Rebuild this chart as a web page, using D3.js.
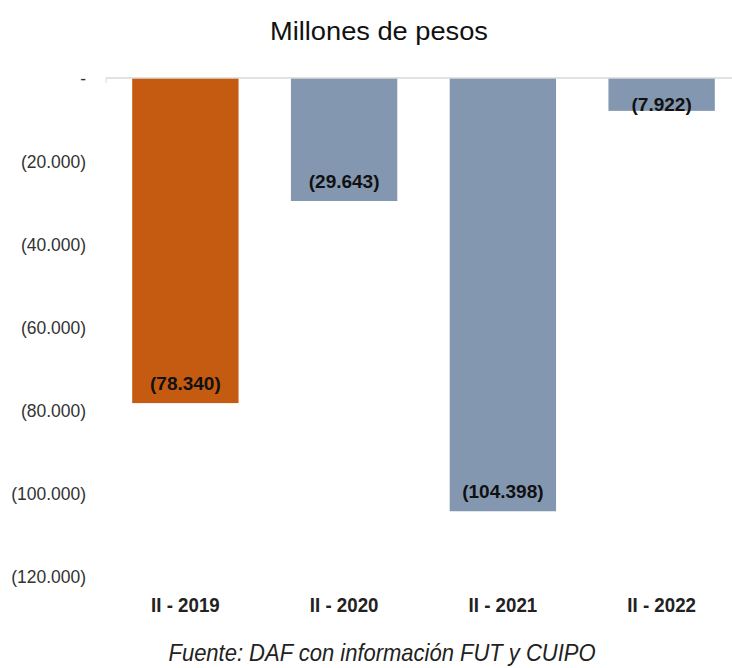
<!DOCTYPE html>
<html><head><meta charset="utf-8">
<script src="https://cdn.jsdelivr.net/npm/d3@7/dist/d3.min.js"></script>
<style>body{margin:0;background:#fff}svg{display:block}</style>
</head><body><svg id="c" width="732" height="668"></svg>
<script>
const categories = ["II - 2019","II - 2020","II - 2021","II - 2022"];
const values = [-78340,-29643,-104398,-7922];
const labels = ["(78.340)","(29.643)","(104.398)","(7.922)"];
const tickValues = [0,-20000,-40000,-60000,-80000,-100000,-120000];
const tickLabels = ["-","(20.000)","(40.000)","(60.000)","(80.000)","(100.000)","(120.000)"];
const colors = ["#C55A11","#8497B0","#8497B0","#8497B0"];

const svg = d3.select("#c");
const font = "Arial,'Liberation Sans',Helvetica,sans-serif";
function condense(sel, f){
  sel.each(function(){
    const w = this.getComputedTextLength();
    d3.select(this).attr("textLength", w*f).attr("lengthAdjust","spacingAndGlyphs");
  });
}
const x = d3.scaleBand().domain(categories).range([106,741]).paddingInner(0.33).paddingOuter(0.165);
const y = d3.scaleLinear().domain([0,-120000]).range([78,576]);

const title = svg.append("text").attr("x",379).attr("y",40).attr("text-anchor","middle")
  .attr("font-family",font).attr("font-size",26).attr("fill","#111")
  .text("Millones de pesos");
title.attr("textLength",218).attr("lengthAdjust","spacingAndGlyphs");

// y axis labels
const ya = svg.append("g").attr("transform","translate(106,0)")
  .call(d3.axisLeft(y).tickValues(tickValues).tickFormat((d,i)=>tickLabels[i]).tickSize(0).tickPadding(20));
ya.select(".domain").remove();
ya.selectAll("text").attr("font-family",font).attr("font-size",19).attr("fill","#333");
condense(ya.selectAll("text"), 0.92);

// bars
svg.append("g").selectAll("rect").data(values).join("rect")
  .attr("x",(d,i)=>x(categories[i])).attr("width",x.bandwidth())
  .attr("y",y(0)).attr("height",d=>y(d)-y(0)).attr("fill",(d,i)=>colors[i]);

// zero line
svg.append("line").attr("x1",106).attr("x2",732).attr("y1",y(0)).attr("y2",y(0))
  .attr("stroke","#d9d9d9").attr("stroke-width",1.5);
svg.append("line").attr("x1",106).attr("x2",106).attr("y1",y(0)).attr("y2",y(0)+5)
  .attr("stroke","#d9d9d9").attr("stroke-width",1);

// value labels (inside base; short bars get the label pushed to the bar end)
svg.append("g").selectAll("text").data(values).join("text")
  .attr("x",(d,i)=>x(categories[i])+x.bandwidth()/2)
  .attr("y",d=>(y(d)-y(0) < 40) ? y(d) : y(d)-13)
  .attr("text-anchor","middle").attr("font-family",font).attr("font-weight","bold")
  .attr("font-size",19).attr("fill","#111").text((d,i)=>labels[i]);

// x axis labels
const xa = svg.append("g").attr("transform","translate(0,612)")
  .call(d3.axisBottom(x).tickSize(0).tickPadding(0));
xa.select(".domain").remove();
xa.selectAll("text").attr("font-family",font).attr("font-weight","bold").attr("font-size",21).attr("fill","#222").attr("dy","0").attr("y",0);
condense(xa.selectAll("text"), 0.89);

svg.append("text").attr("x",382).attr("y",661).attr("text-anchor","middle")
  .attr("font-family",font).attr("font-style","italic").attr("font-size",24).attr("fill","#222")
  .attr("textLength",427).attr("lengthAdjust","spacingAndGlyphs")
  .text("Fuente: DAF con información FUT y CUIPO");
</script></body></html>
